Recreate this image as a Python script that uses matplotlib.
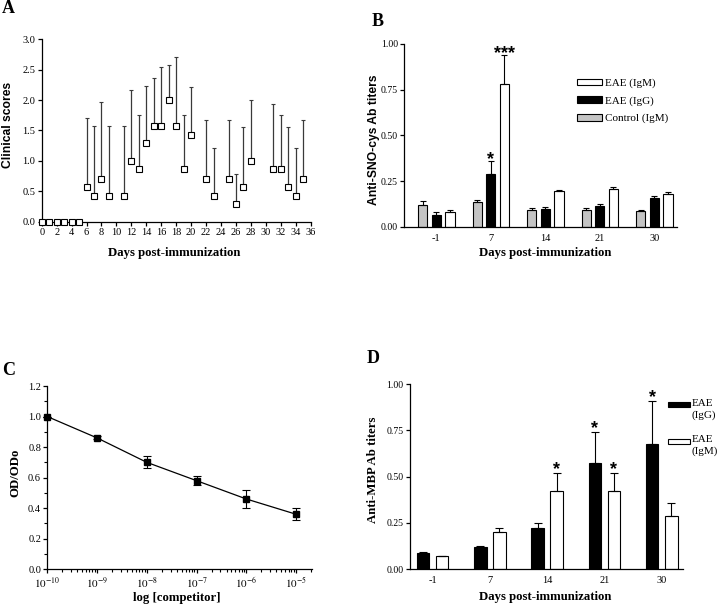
import matplotlib
matplotlib.use('Agg')
import matplotlib.pyplot as plt
from matplotlib.patches import Rectangle
from matplotlib.ticker import MultipleLocator, LogLocator, NullFormatter, FixedLocator
import numpy as np

plt.rcParams['font.family'] = ['Liberation Serif', 'DejaVu Serif']
plt.rcParams['mathtext.fontset'] = 'stix'
plt.rcParams['axes.linewidth'] = 0.9
plt.rcParams['xtick.major.width'] = 0.9
plt.rcParams['ytick.major.width'] = 0.9
plt.rcParams['xtick.major.size'] = 3
plt.rcParams['ytick.major.size'] = 3
plt.rcParams['xtick.labelsize'] = 7.5
plt.rcParams['ytick.labelsize'] = 7.5

###############################################################################
# Data
###############################################################################
# A: clinical scores
days_a   = [0, 1, 2, 3, 4, 5, 6, 7, 8, 9, 11, 12, 13, 14, 15, 16, 17, 18, 19, 20,
            22, 23, 25, 26, 27, 28, 31, 32, 33, 34, 35]
score_a  = [0, 0, 0, 0, 0, 0, 0.57, 0.43, 0.71, 0.43, 0.43, 1.00, 0.86, 1.29, 1.57,
            1.57, 2.00, 1.57, 0.86, 1.43, 0.71, 0.43, 0.71, 0.29, 0.57, 1.00,
            0.86, 0.86, 0.57, 0.43, 0.71]
upper_a  = [0, 0, 0, 0, 0, 0, 1.71, 1.57, 1.97, 1.57, 1.57, 2.16, 1.76, 2.24, 2.36,
            2.55, 2.58, 2.71, 1.76, 2.22, 1.67, 1.22, 1.67, 0.78, 1.55, 2.00,
            1.93, 1.76, 1.55, 1.22, 1.67]

# B: anti-SNO-cys titers
days_b       = ['-1', '7', '14', '21', '30']
ctrl_igm_b   = [0.120, 0.135, 0.095, 0.095, 0.085]
ctrl_igm_err = [0.020, 0.015, 0.008, 0.008, 0.006]
eae_igg_b    = [0.065, 0.290, 0.100, 0.115, 0.160]
eae_igg_err  = [0.016, 0.070, 0.008, 0.010, 0.007]
eae_igm_b    = [0.082, 0.780, 0.195, 0.205, 0.178]
eae_igm_err  = [0.010, 0.160, 0.005, 0.012, 0.014]

# C: competition
conc_c  = [1e-10, 1e-9, 1e-8, 1e-7, 1e-6, 1e-5]
ratio_c = [1.00, 0.86, 0.70, 0.58, 0.46, 0.36]
err_c   = [0.0, 0.01, 0.04, 0.03, 0.06, 0.04]

# D: anti-MBP titers
days_d      = ['-1', '7', '14', '21', '30']
eae_igg_d   = [0.090, 0.120, 0.225, 0.575, 0.675]
igg_err_d   = [0.003, 0.004, 0.025, 0.165, 0.235]
eae_igm_d   = [0.070, 0.200, 0.425, 0.420, 0.290]
igm_err_d   = [0.002, 0.025, 0.095, 0.100, 0.070]

W, H = 720, 607
def px_rect(l, t, r, b):
    return [l / W, 1 - b / H, (r - l) / W, (b - t) / H]

def fx(x):
    return x / W

def fy(y):
    return 1 - y / H

def strip(ax):
    ax.spines['top'].set_visible(False)
    ax.spines['right'].set_visible(False)
    ax.tick_params(direction='out', pad=1.5)

def star(ax, x, top, s, dy):
    ax.annotate(s, xy=(x, top), xytext=(0, dy), textcoords='offset points',
                ha='center', va='baseline', fontsize=13, fontweight='bold',
                family='Liberation Sans')

fig = plt.figure(figsize=(7.2, 6.07), dpi=100)

label_serif = dict(fontsize=9.2, fontweight='bold', family='Liberation Serif')
label_sans  = dict(fontsize=8.7, fontweight='bold', family='Liberation Sans')

###############################################################################
# A
###############################################################################
axA = fig.add_axes(px_rect(41.7, 39.3, 310.7, 221.7))
strip(axA)
up = np.array(upper_a) - np.array(score_a)
axA.errorbar(days_a, score_a, yerr=[np.zeros(len(up)), up], fmt='s', mfc='white',
             mec='black', ms=4.6, mew=0.8, ecolor='#3a3a3a', elinewidth=0.9,
             capsize=1.6, capthick=0.9, clip_on=False, zorder=3)
axA.set_xlim(0, 36)
axA.set_ylim(0, 3.0)
axA.xaxis.set_major_locator(MultipleLocator(2))
axA.yaxis.set_major_locator(MultipleLocator(0.5))
axA.yaxis.set_major_formatter(matplotlib.ticker.FormatStrFormatter('%.1f'))
fig.text(fx(8.5), fy(125), 'Clinical scores', rotation=90, ha='center', va='center', **label_sans)
fig.text(fx(174), fy(256), 'Days post-immunization', ha='center', va='baseline', **label_serif)
fig.text(fx(2), fy(13), 'A', ha='left', va='baseline', fontsize=13, fontweight='bold')

###############################################################################
# B
###############################################################################
axB = fig.add_axes(px_rect(404.3, 43.7, 676.7, 227))
strip(axB)
axB.tick_params(axis='y', labelsize=7)
xb = np.arange(len(days_b))
wb = 0.17
ekw = dict(elinewidth=0.8, capthick=0.8, ecolor='black')
gray = axB.bar(xb - 0.25, ctrl_igm_b, wb, color='#c4c4c4', edgecolor='black', lw=0.8,
               yerr=[np.zeros(5), ctrl_igm_err], capsize=2.2, error_kw=ekw)
blk = axB.bar(xb, eae_igg_b, wb, color='black', edgecolor='black', lw=0.8,
              yerr=[np.zeros(5), eae_igg_err], capsize=2.2, error_kw=ekw)
wht = axB.bar(xb + 0.25, eae_igm_b, wb, color='white', edgecolor='black', lw=0.8,
              yerr=[np.zeros(5), eae_igm_err], capsize=2.2, error_kw=ekw)
axB.set_xlim(-0.587, 4.41)
axB.set_ylim(0, 1.0)
axB.set_xticks(xb)
axB.set_xticklabels(days_b)
axB.tick_params(axis='x', length=0, pad=5)
axB.yaxis.set_major_locator(MultipleLocator(0.25))
axB.yaxis.set_major_formatter(matplotlib.ticker.FormatStrFormatter('%.2f'))
star(axB, xb[1], eae_igg_b[1] + eae_igg_err[1], '*', -2.5)
star(axB, xb[1] + 0.25, eae_igm_b[1] + eae_igm_err[1], '***', -2.5)
axB.legend([wht, blk, gray], ['EAE (IgM)', 'EAE (IgG)', 'Control (IgM)'],
           loc='upper left', bbox_to_anchor=(0.635, 0.81), frameon=False,
           fontsize=8, handlelength=2.2, handleheight=0.55, handletextpad=0.3,
           labelspacing=0.72, borderpad=0, borderaxespad=0)
fig.text(fx(373.5), fy(140), 'Anti-SNO-cys Ab titers', rotation=90, ha='center', va='center', **label_sans)
fig.text(fx(545), fy(256), 'Days post-immunization', ha='center', va='baseline', **label_serif)
fig.text(fx(372), fy(26), 'B', ha='left', va='baseline', fontsize=13, fontweight='bold')

###############################################################################
# C
###############################################################################
axC = fig.add_axes(px_rect(47.3, 386, 311.7, 569.3))
strip(axC)
axC.errorbar(conc_c, ratio_c, yerr=err_c, fmt='-s', color='black', ms=5, lw=0.9,
             elinewidth=0.8, capsize=3, capthick=0.8, clip_on=False, zorder=3)
axC.set_xscale('log')
axC.set_xlim(1e-10, 10 ** -4.69)
axC.set_ylim(0, 1.2)
axC.xaxis.set_major_locator(FixedLocator(conc_c))
axC.set_xticklabels([r'$10^{%d}$' % e for e in range(-10, -4)])
axC.xaxis.set_minor_locator(LogLocator(base=10, subs=np.arange(2, 10), numticks=20))
axC.xaxis.set_minor_formatter(NullFormatter())
axC.yaxis.set_major_locator(MultipleLocator(0.2))
axC.yaxis.set_minor_locator(MultipleLocator(0.1))
axC.yaxis.set_major_formatter(matplotlib.ticker.FormatStrFormatter('%.1f'))
axC.tick_params(which='minor', direction='out', length=2, width=0.8)
axC.tick_params(axis='x', which='major', labelsize=8)
fig.text(fx(15.5), fy(473), 'OD/ODo', rotation=90, ha='center', va='center', **label_serif)
fig.text(fx(177), fy(601), 'log [competitor]', ha='center', va='baseline', **label_serif)
fig.text(fx(2), fy(375), 'C', ha='left', va='baseline', fontsize=13, fontweight='bold')

###############################################################################
# D
###############################################################################
axD = fig.add_axes(px_rect(410, 384, 683.3, 569.3))
strip(axD)
axD.tick_params(axis='y', labelsize=7)
xd = np.arange(len(days_d))
wd = 0.22
axD.bar(xd - 0.166, eae_igg_d, wd, color='black', edgecolor='black', lw=0.8,
        yerr=[np.zeros(5), igg_err_d], capsize=3, error_kw=ekw)
axD.bar(xd + 0.166, eae_igm_d, wd, color='white', edgecolor='black', lw=0.8,
        yerr=[np.zeros(5), igm_err_d], capsize=3, error_kw=ekw)
axD.set_xlim(-0.393, 4.377)
axD.set_ylim(0, 1.0)
axD.set_xticks(xd)
axD.set_xticklabels(days_d)
axD.tick_params(axis='x', length=0, pad=5)
axD.yaxis.set_major_locator(MultipleLocator(0.25))
axD.yaxis.set_major_formatter(matplotlib.ticker.FormatStrFormatter('%.2f'))
star(axD, xd[2] + 0.166, eae_igm_d[2] + igm_err_d[2], '*', -1)
star(axD, xd[3] - 0.166, eae_igg_d[3] + igg_err_d[3], '*', -1)
star(axD, xd[3] + 0.166, eae_igm_d[3] + igm_err_d[3], '*', -1)
star(axD, xd[4] - 0.166, eae_igg_d[4] + igg_err_d[4], '*', -1)
# legend drawn by hand: swatch sits on the first text line
for (ty, fc, lab) in [(404.5, 'black', 'EAE\n(IgG)'), (441, 'white', 'EAE\n(IgM)')]:
    fig.patches.append(Rectangle((fx(668), fy(ty + 2.5)), fx(22), 5 / H, facecolor=fc,
                                 edgecolor='black', lw=0.8, transform=fig.transFigure))
    fig.text(fx(692), fy(ty - 6), lab, ha='left', va='top', fontsize=8, linespacing=1.35)
fig.text(fx(372.5), fy(470), 'Anti-MBP Ab titers', rotation=90, ha='center', va='center', **label_serif)
fig.text(fx(545), fy(600), 'Days post-immunization', ha='center', va='baseline', **label_serif)
fig.text(fx(367), fy(363), 'D', ha='left', va='baseline', fontsize=13, fontweight='bold')

fig.savefig('out.png', dpi=100)
